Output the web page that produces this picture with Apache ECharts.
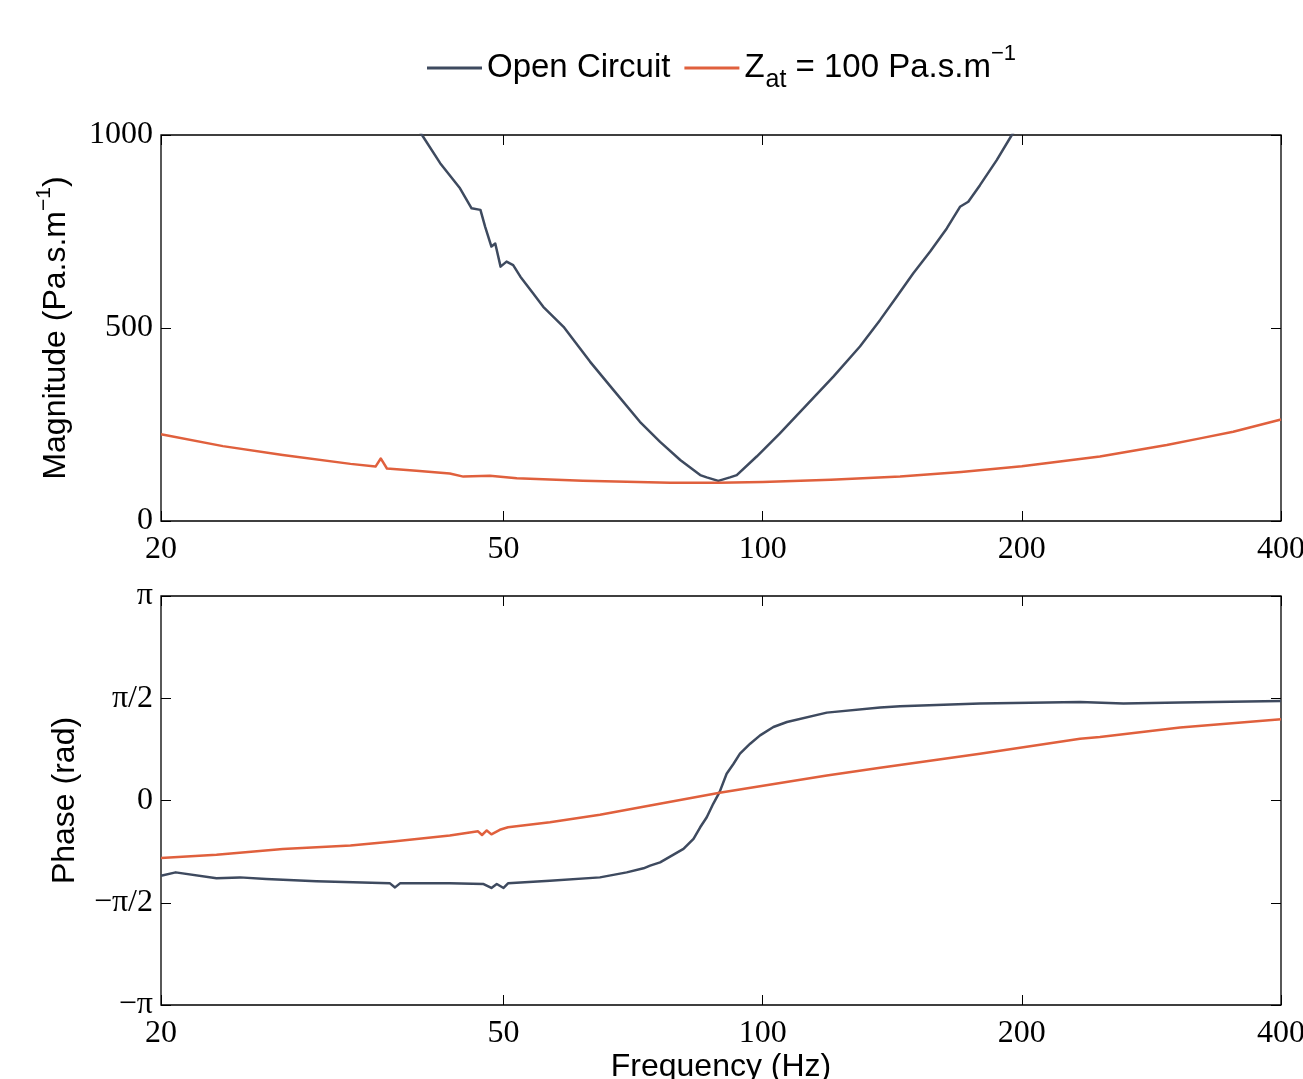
<!DOCTYPE html>
<html><head><meta charset="utf-8">
<script src="https://cdn.jsdelivr.net/npm/echarts@6/dist/echarts.min.js"></script>
<style>html,body{margin:0;padding:0;background:#fff}#c{width:1303px;height:1079px}</style>
</head><body><div id="c"></div>
<script>
// ---- tick labels ----
const xTicks = [20, 50, 100, 200, 400];
const magTickStep = 500;
const phaseTickLabels = ['\u2212\u03c0', '\u2212\u03c0/2', '0', '\u03c0/2', '\u03c0'];

// ---- Magnitude: Open Circuit ----
const ocMagFreq = [38,40.2,42.2,44.5,45.9,47.0,47.6,48.4,48.9,49.6,50.4,51.3,52.3,54.1,55.6,58.7,60.3,63.0,67.1,72.0,76.0,80.2,84.6,86.1,88.8,91.6,93.3,98.4,104.7,112.5,120.8,129.7,136.9,143.1,149.6,156.5,163.6,169.5,173.3,178.8,187.0,194.7,200];
const ocMag     = [1080,1000,927,862,810,806,762,711,719,659,672,663,633,590,555,503,469,413,339,257,205,158,119,113,104,113,119,167,227,301,374,452,521,581,642,698,758,814,827,870,935,1000,1040];

// ---- Magnitude: Z_at = 100 ----
const zMagFreq = [20,23.6,27.7,33.2,35.5,36.0,36.6,39.6,43.3,44.9,48.2,51.8,61.8,78.1,88.8,100,120,144.4,170,200,246.4,294.7,322.2,352,400];
const zMag     = [225,194,171,148,141,162,136,130,123,115,117,111,104,99,99,101,107,115,127,142,167,197,214,231,263];

// ---- Phase: Open Circuit (rad) ----
const ocPhFreq = [20,20.8,23.2,24.7,26.5,30.3,36.9,37.4,37.9,43.3,47.4,48.4,49.1,50.0,50.6,56.6,64.7,69.5,72.7,74.0,76.0,80.9,83.1,84.6,86.1,87.6,89.1,90.8,92.5,94.1,96.7,99.3,102.9,106.7,118.7,136.9,144.4,178.8,233.7,262.4,305.4,400];
const ocPh     = [-1.155,-1.104,-1.196,-1.181,-1.206,-1.242,-1.273,-1.335,-1.273,-1.273,-1.283,-1.344,-1.283,-1.344,-1.273,-1.232,-1.181,-1.104,-1.042,-1.001,-0.950,-0.744,-0.590,-0.411,-0.257,-0.051,0.128,0.411,0.565,0.719,0.873,1.001,1.129,1.206,1.350,1.427,1.448,1.489,1.514,1.490,1.504,1.529];

// ---- Phase: Z_at = 100 (rad) ----
const zPhFreq = [20,23.2,27.7,33.2,37.2,43.3,46.7,47.2,47.8,48.4,49.5,50.6,56.6,64.7,74.0,89.1,118.7,136.9,178.8,233.7,246.4,305.4,400];
const zPh     = [-0.883,-0.832,-0.744,-0.693,-0.631,-0.539,-0.473,-0.53,-0.46,-0.52,-0.45,-0.411,-0.334,-0.220,-0.077,0.118,0.385,0.503,0.719,0.950,0.975,1.120,1.247];

const pairs = (xs, ys) => xs.map((x, i) => [x, ys[i]]);
const BLUE = '#3e4a5f', RED = '#e0603d';
const serif = 'Liberation Serif', sans = 'Liberation Sans';

function xAxisDef(grid, pos, labels, extra) {
  return Object.assign({
    gridIndex: grid, type: 'log', logBase: 10, min: 20, max: 400, position: pos,
    axisLine: {show: false, onZero: false}, splitLine: {show: false}, minorTick: {show: false},
    axisTick: {show: true, inside: true, length: 10, customValues: xTicks, lineStyle: {color: '#000', width: 1}},
    axisLabel: {show: labels, customValues: xTicks, fontFamily: serif, fontSize: 32, color: '#000', margin: 13,
      formatter: v => String(Math.round(v))}
  }, extra || {});
}
function yAxisDef(grid, pos, labels, min, max, interval, fmt, extra) {
  return Object.assign({
    gridIndex: grid, type: 'value', min: min, max: max, interval: interval, position: pos,
    axisLine: {show: false, onZero: false}, splitLine: {show: false},
    axisTick: {show: true, inside: true, length: 10, lineStyle: {color: '#000', width: 1}},
    axisLabel: {show: labels, fontFamily: serif, fontSize: 32, color: '#000', margin: 8, formatter: fmt}
  }, extra || {});
}
const phaseFmt = v => phaseTickLabels[Math.round(v / (Math.PI / 2)) + 2];
const lineSeries = (name, xi, yi, data, color) => ({
  name: name, type: 'line', xAxisIndex: xi, yAxisIndex: yi, data: data,
  showSymbol: false, symbol: 'none', clip: true, smooth: false,
  lineStyle: {color: color, width: 2.5, join: 'round'}, itemStyle: {color: color}
});

const chart = echarts.init(document.getElementById('c'), null, {renderer: 'canvas'});
chart.setOption({
  backgroundColor: '#fff',
  animation: false,
  legend: {
    top: 38, left: 422, icon: 'rect', itemWidth: 55, itemHeight: 3, itemGap: 14,
    data: ['Open Circuit', 'Zat'],
    textStyle: {fontFamily: sans, fontSize: 33, color: '#000', lineHeight: 50,
      rich: {
        n: {fontFamily: sans, fontSize: 33, color: '#000', lineHeight: 50},
        sub: {fontFamily: sans, fontSize: 25, color: '#000', lineHeight: 26, verticalAlign: 'bottom', padding: [0, 0, 0, 1]},
        sup: {fontFamily: sans, fontSize: 22, color: '#000', lineHeight: 24, verticalAlign: 'top'}
      }},
    formatter: name => name === 'Zat' ? '{n|Z}{sub|at}{n| = 100 Pa.s.m}{sup|\u22121}' : name
  },
  grid: [
    {left: 161, top: 135, width: 1120, height: 386, show: true, borderColor: '#000', borderWidth: 1.3, backgroundColor: 'transparent', outerBoundsMode: 'none'},
    {left: 161, top: 596, width: 1120, height: 409, show: true, borderColor: '#000', borderWidth: 1.3, backgroundColor: 'transparent', outerBoundsMode: 'none'}
  ],
  xAxis: [
    xAxisDef(0, 'bottom', true),
    xAxisDef(0, 'top', false),
    xAxisDef(1, 'bottom', true, {name: 'Frequency (Hz)', nameLocation: 'middle', nameGap: 42,
      nameTextStyle: {fontFamily: sans, fontSize: 32, color: '#000'}}),
    xAxisDef(1, 'top', false)
  ],
  yAxis: [
    yAxisDef(0, 'left', true, 0, 1000, magTickStep, v => String(v), {
      name: 'Magnitude (Pa.s.m{sup|\u22121})', nameLocation: 'middle', nameRotate: 90, nameGap: 80,
      nameTextStyle: {fontFamily: sans, fontSize: 32, color: '#000', lineHeight: 44,
        rich: {sup: {fontFamily: sans, fontSize: 21, color: '#000', lineHeight: 22, verticalAlign: 'top'}}}
    }),
    yAxisDef(0, 'right', false, 0, 1000, magTickStep, v => String(v)),
    yAxisDef(1, 'left', true, -Math.PI, Math.PI, Math.PI / 2, phaseFmt, {
      name: 'Phase (rad)', nameLocation: 'middle', nameRotate: 90, nameGap: 80,
      nameTextStyle: {fontFamily: sans, fontSize: 32, color: '#000'}
    }),
    yAxisDef(1, 'right', false, -Math.PI, Math.PI, Math.PI / 2, phaseFmt)
  ],
  series: [
    lineSeries('Open Circuit', 0, 0, pairs(ocMagFreq, ocMag), BLUE),
    lineSeries('Zat', 0, 0, pairs(zMagFreq, zMag), RED),
    lineSeries('Open Circuit', 2, 2, pairs(ocPhFreq, ocPh), BLUE),
    lineSeries('Zat', 2, 2, pairs(zPhFreq, zPh), RED)
  ]
});
</script></body></html>
